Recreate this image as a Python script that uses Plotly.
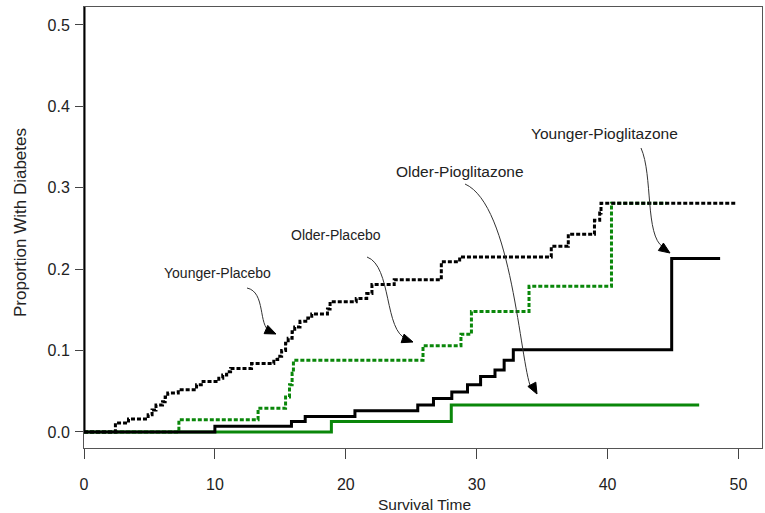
import plotly.graph_objects as go

# ---------------- data ----------------
young_placebo_t = [0, 2.4, 3.4, 4.9, 5.2, 5.5, 6.0, 6.2, 6.4, 7.2, 8.6, 9.1, 10.3, 10.6, 10.9, 11.2,
                   12.8, 14.5, 14.8, 15.1, 15.4, 15.6, 15.9, 16.1, 16.5, 17.1, 17.4, 18.6, 18.8,
                   20.8, 21.6, 22.0, 23.7, 27.3, 28.7, 35.7, 37.0, 39.0, 39.4, 39.5, 49.9]
young_placebo_p = [0, 0.011, 0.016, 0.021, 0.027, 0.033, 0.037, 0.043, 0.048, 0.052, 0.058, 0.062,
                   0.066, 0.070, 0.074, 0.078, 0.084, 0.089, 0.093, 0.100, 0.109, 0.115, 0.123,
                   0.129, 0.136, 0.140, 0.145, 0.151, 0.160, 0.164, 0.170, 0.181, 0.187, 0.209,
                   0.215, 0.228, 0.243, 0.260, 0.269, 0.281, 0.281]

old_placebo_t = [0, 7.25, 13.3, 15.4, 15.7, 15.9, 16.0, 25.9, 28.8, 29.6, 34.0, 40.3, 44.5]
old_placebo_p = [0, 0.015, 0.029, 0.043, 0.058, 0.072, 0.088, 0.106, 0.120, 0.148, 0.179, 0.281, 0.281]

young_pio_t = [0, 10.0, 15.85, 16.9, 20.7, 25.5, 26.7, 28.1, 29.3, 30.3, 31.4, 32.1, 32.8, 44.9, 48.6]
young_pio_p = [0, 0.007, 0.013, 0.019, 0.026, 0.033, 0.041, 0.049, 0.058, 0.068, 0.076, 0.088,
               0.101, 0.213, 0.213]

old_pio_t = [0, 18.9, 28.06, 47.0]
old_pio_p = [0, 0.013, 0.033, 0.033]

x_ticks = [0, 10, 20, 30, 40, 50]
y_ticks = [0.0, 0.1, 0.2, 0.3, 0.4, 0.5]

labels = ["Younger-Placebo", "Older-Placebo", "Older-Pioglitazone", "Younger-Pioglitazone"]

# ---------------- styling ----------------
BLACK = "#000000"
GREEN = "#0a870a"
FONT = "Liberation Sans, Arial, sans-serif"
W, H = 765, 513
L, R, T, B = 84, 3, 7, 65
X_RANGE = [0, 51.8]
Y_RANGE = [-0.0197, 0.522]

fig = go.Figure()
dotted = "4px,2px"
fig.add_trace(go.Scatter(x=old_placebo_t, y=old_placebo_p, mode="lines", line_shape="hv",
                         line=dict(color=GREEN, width=3, dash=dotted), name="Older-Placebo"))
fig.add_trace(go.Scatter(x=old_pio_t, y=old_pio_p, mode="lines", line_shape="hv",
                         line=dict(color=GREEN, width=3), name="Older-Pioglitazone"))
fig.add_trace(go.Scatter(x=young_placebo_t, y=young_placebo_p, mode="lines", line_shape="hv",
                         line=dict(color=BLACK, width=3, dash=dotted), name="Younger-Placebo"))
fig.add_trace(go.Scatter(x=young_pio_t, y=young_pio_p, mode="lines", line_shape="hv",
                         line=dict(color=BLACK, width=3), name="Younger-Pioglitazone"))

# pixel -> paper helpers for decorations
pw, ph = W - L - R, H - T - B
def px(x):
    return (x - L) / pw
def py(y):
    return (H - B - y) / ph

shapes = []
# thick left line (from y=0 to top)
shapes.append(dict(type="line", xref="x", yref="paper", x0=0, x1=0,
                   y0=(0 - Y_RANGE[0]) / (Y_RANGE[1] - Y_RANGE[0]), y1=1,
                   line=dict(color=BLACK, width=3)))

def arrow(p0, c1, c2, p3, tip):
    path = "M {} {} C {} {}, {} {}, {} {}".format(px(p0[0]), py(p0[1]), px(c1[0]), py(c1[1]),
                                                  px(c2[0]), py(c2[1]), px(p3[0]), py(p3[1]))
    shapes.append(dict(type="path", xref="paper", yref="paper", path=path,
                       line=dict(color="#333333", width=1)))
    # arrowhead
    dx, dy = tip[0] - c2[0], tip[1] - c2[1]
    n = (dx * dx + dy * dy) ** 0.5
    ux, uy = dx / n, dy / n
    bx, by = tip[0] - 11 * ux, tip[1] - 11 * uy
    ax1, ay1 = bx - 4.5 * uy, by + 4.5 * ux
    ax2, ay2 = bx + 4.5 * uy, by - 4.5 * ux
    head = "M {} {} L {} {} L {} {} Z".format(px(tip[0]), py(tip[1]), px(ax1), py(ay1), px(ax2), py(ay2))
    shapes.append(dict(type="path", xref="paper", yref="paper", path=head,
                       fillcolor=BLACK, line=dict(color=BLACK, width=1)))

arrow((247, 288), (266, 292), (258, 326), (270, 331), (276, 334))
arrow((367, 257), (392, 266), (384, 332), (407, 339), (413, 342))
arrow((465, 184), (512, 205), (520, 362), (531, 388), (537, 394))
arrow((641, 148), (653, 175), (645, 236), (663, 247), (670, 253))

annots = []
label_pos = [(217, 273), (336, 235), (460, 171), (604, 133)]
label_size = [14, 14, 15.5, 15.5]
for txt, (x, y), s in zip(labels, label_pos, label_size):
    annots.append(dict(text=txt, xref="paper", yref="paper", x=px(x), y=py(y),
                       xanchor="center", yanchor="middle", showarrow=False,
                       font=dict(family=FONT, size=s, color="#222222")))
annots.append(dict(text="Survival Time", xref="paper", yref="paper", x=px(424), y=py(505),
                   xanchor="center", yanchor="middle", showarrow=False,
                   font=dict(family=FONT, size=15.5, color="#222222")))
annots.append(dict(text="Proportion With Diabetes", xref="paper", yref="paper", x=px(20), y=py(223),
                   xanchor="center", yanchor="middle", showarrow=False, textangle=-90,
                   font=dict(family=FONT, size=17, color="#222222")))

fig.update_layout(
    width=W, height=H, margin=dict(l=L, r=R, t=T, b=B),
    paper_bgcolor="white", plot_bgcolor="white", showlegend=False,
    shapes=shapes, annotations=annots,
    xaxis=dict(range=X_RANGE, tickvals=x_ticks, ticks="outside", ticklen=10, tickcolor="#444",
               showline=True, linecolor="#555", linewidth=1, mirror=True, showgrid=False,
               zeroline=False, ticklabelstandoff=12,
               tickfont=dict(family=FONT, size=16, color="#222")),
    yaxis=dict(range=Y_RANGE, tickvals=y_ticks, tickformat=".1f", ticks="outside", ticklen=8,
               tickcolor="#444", showline=True, linecolor="#555", linewidth=1, mirror=True,
               showgrid=False, zeroline=False, ticklabelstandoff=2,
               tickfont=dict(family=FONT, size=16, color="#222")),
)

fig.write_html("out.html", config={"displayModeBar": False},
               post_script="document.body.style.margin='0';document.body.style.overflow='hidden';")
